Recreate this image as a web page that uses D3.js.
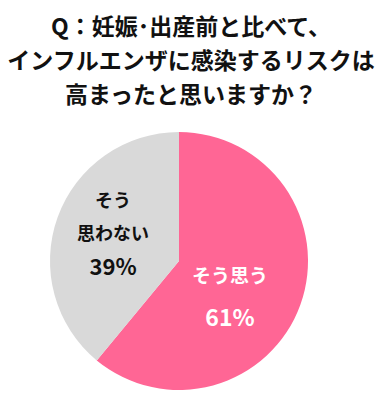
<!DOCTYPE html>
<html>
<head>
<meta charset="utf-8">
<script src="https://cdn.jsdelivr.net/npm/d3@7"></script>
<style>
  body { margin: 0; background: #fff; }
  text { font-family: "Noto Sans CJK JP", sans-serif; font-weight: bold; }
</style>
</head>
<body>
<div id="chart"></div>
<script>
'use strict';

var titleLines = ['Q：妊娠･出産前と比べて、', 'インフルエンザに感染するリスクは', '高まったと思いますか？'];
var categories = ['そう思う', 'そう思わない'];
var values     = [61, 39];
var labelLines = [['そう思う'], ['そう', '思わない']];
var colors     = ['#ff6695', '#d9d9d9'];

var width = 384, height = 400;
var cx = 179, cy = 261, radius = 129;

var svg = d3.select('#chart').append('svg')
    .attr('width', width)
    .attr('height', height);

// title
svg.append('g').selectAll('text')
    .data(titleLines)
    .enter()
    .append('text')
    .attr('x', 191)
    .attr('y', function(d, i){ return 35 + i * 34; })
    .attr('text-anchor', 'middle')
    .style('font-size', '23px')
    .style('fill', '#111')
    .text(function(d){ return d; });

var data = categories.map(function(c, i){ return {name: c, value: values[i], lines: labelLines[i], color: colors[i]}; });

var pie = d3.pie().sort(null).value(function(d){ return d.value; });
var arc = d3.arc().innerRadius(0).outerRadius(radius);

var g = svg.append('g')
    .attr('transform', 'translate(' + cx + ',' + cy + ')');

var arcs = pie(data);

g.selectAll('path')
    .data(arcs)
    .enter()
    .append('path')
    .attr('d', arc)
    .style('fill', function(d){ return d.data.color; });

// labels, placed by hand inside each slice
var labelPos = [
    {dx: 51, dy: 16, size: 19, pct: 23, step: 41, color: '#fff'},
    {dx: -66, dy: -60, size: 18, pct: 22, step: 33, color: '#111'}
];

arcs.forEach(function(a, i){
    var p = labelPos[i];
    var lines = a.data.lines.concat([a.data.value + '%']);
    g.append('g').selectAll('text')
        .data(lines)
        .enter()
        .append('text')
        .attr('x', p.dx)
        .attr('y', function(d, j){ return p.dy + j * p.step + (j === lines.length - 1 ? 8 : 6); })
        .attr('text-anchor', 'middle')
        .style('font-size', function(d, j){ return (j === lines.length - 1 ? p.pct : p.size) + 'px'; })
        .style('fill', p.color)
        .text(function(d){ return d; });
});
</script>
</body>
</html>
